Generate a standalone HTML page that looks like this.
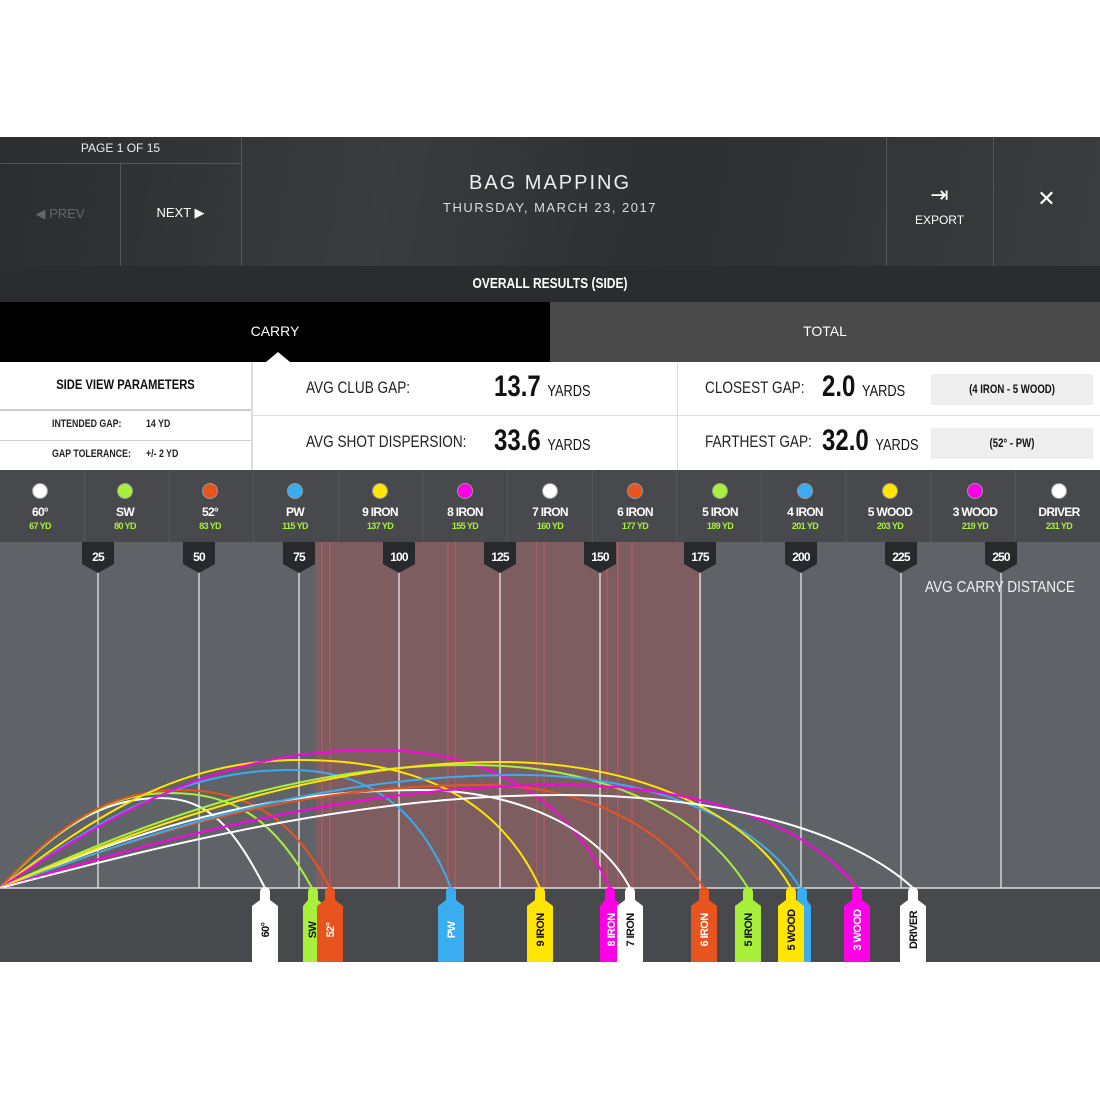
<!DOCTYPE html>
<html><head><meta charset="utf-8"><style>
*{margin:0;padding:0;box-sizing:border-box}
body{width:1100px;height:1100px;background:#fff;position:relative;overflow:hidden;font-family:"Liberation Sans",sans-serif}
.a{position:absolute}
.n{font-weight:bold;transform:scaleX(0.8);transform-origin:0 0;white-space:nowrap}
.nc{font-weight:bold;transform:scaleX(0.8);transform-origin:50% 0;white-space:nowrap}
.c{text-align:center}
.y{font-size:16px;font-weight:normal}
</style></head><body>
<!-- header -->
<div class="a" style="left:0;top:137px;width:1100px;height:129px;background:linear-gradient(100deg,#2c2d2f 0%,#3a3b3d 35%,#2e2f31 60%,#3b3c3e 100%)"></div>
<div class="a" style="left:0;top:163px;width:241px;height:1px;background:#555"></div>
<div class="a" style="left:120px;top:163px;width:1px;height:103px;background:#555"></div>
<div class="a" style="left:241px;top:137px;width:1px;height:129px;background:#555"></div>
<div class="a" style="left:886px;top:137px;width:1px;height:129px;background:#555"></div>
<div class="a" style="left:993px;top:137px;width:1px;height:129px;background:#555"></div>
<div class="a c" style="left:0;top:141px;width:241px;color:#eee;font-size:12px">PAGE 1 OF 15</div>
<div class="a c" style="left:0;top:206px;width:120px;color:#666;font-size:13px">◀ PREV</div>
<div class="a c" style="left:120px;top:205px;width:121px;color:#fff;font-size:13px">NEXT ▶</div>
<div class="a c" style="left:300px;top:172px;width:500px;color:#eee;font-size:20px;letter-spacing:2px">BAG MAPPING</div>
<div class="a c" style="left:300px;top:200px;width:500px;color:#ddd;font-size:13px;letter-spacing:1.5px">THURSDAY, MARCH 23, 2017</div>
<div class="a c" style="left:886px;top:182px;width:107px;color:#fff;font-size:22px">⇥</div>
<div class="a c" style="left:886px;top:213px;width:107px;color:#fff;font-size:12px">EXPORT</div>
<div class="a c" style="left:993px;top:186px;width:107px;color:#fff;font-size:22px">✕</div>
<div class="a" style="left:0;top:266px;width:1100px;height:36px;background:#2b2c2e"></div>
<div class="a nc c" style="left:0;top:266px;width:1100px;color:#fff;font-size:15px;line-height:36px">OVERALL RESULTS (SIDE)</div>
<!-- tabs -->
<div class="a c" style="left:0;top:302px;width:550px;height:60px;background:#000;color:#fff;font-size:14px;line-height:58px">CARRY</div>
<div class="a c" style="left:550px;top:302px;width:550px;height:60px;background:#4a4a4a;color:#fff;font-size:14px;line-height:58px">TOTAL</div>
<div class="a" style="left:266px;top:352px;width:0;height:0;border-left:12px solid transparent;border-right:12px solid transparent;border-bottom:10px solid #fff"></div>
<!-- params -->
<div class="a" style="left:251px;top:362px;width:2px;height:108px;background:#ddd"></div>
<div class="a" style="left:677px;top:362px;width:1px;height:108px;background:#ddd"></div>
<div class="a" style="left:253px;top:415px;width:847px;height:1px;background:#ddd"></div>
<div class="a" style="left:0;top:409px;width:251px;height:2px;background:#ccc"></div>
<div class="a" style="left:0;top:440px;width:251px;height:1px;background:#ccc"></div>
<div class="a nc c" style="left:0;top:376px;width:251px;font-size:14px;color:#111">SIDE VIEW PARAMETERS</div>
<div class="a n" style="left:52px;top:418px;font-size:11px;color:#222">INTENDED GAP:</div>
<div class="a n" style="left:146px;top:418px;font-size:11px;color:#222">14 YD</div>
<div class="a n" style="left:52px;top:448px;font-size:11px;color:#222">GAP TOLERANCE:</div>
<div class="a n" style="left:146px;top:448px;font-size:11px;color:#222">+/- 2 YD</div>
<div class="a n" style="left:306px;top:378px;font-size:17px;color:#222;font-weight:normal">AVG CLUB GAP:</div>
<div class="a n" style="left:494px;top:370px;font-size:30px;color:#111">13.7 <span class="y">YARDS</span></div>
<div class="a n" style="left:306px;top:432px;font-size:17px;color:#222;font-weight:normal">AVG SHOT DISPERSION:</div>
<div class="a n" style="left:494px;top:424px;font-size:30px;color:#111">33.6 <span class="y">YARDS</span></div>
<div class="a n" style="left:705px;top:378px;font-size:17px;color:#222;font-weight:normal">CLOSEST GAP:</div>
<div class="a n" style="left:822px;top:370px;font-size:30px;color:#111">2.0 <span class="y">YARDS</span></div>
<div class="a n" style="left:705px;top:432px;font-size:17px;color:#222;font-weight:normal">FARTHEST GAP:</div>
<div class="a n" style="left:822px;top:424px;font-size:30px;color:#111">32.0 <span class="y">YARDS</span></div>
<div class="a" style="left:931px;top:374px;width:162px;height:31px;background:#eee"></div>
<div class="a" style="left:931px;top:428px;width:162px;height:31px;background:#eee"></div>
<div class="a nc c" style="left:931px;top:374px;width:162px;font-size:12px;line-height:31px;color:#111">(4 IRON - 5 WOOD)</div>
<div class="a nc c" style="left:931px;top:428px;width:162px;font-size:12px;line-height:31px;color:#111">(52° - PW)</div>
<!-- chart svg -->
<svg class="a" style="left:0;top:470px" width="1100" height="492" viewBox="0 470 1100 492">
<rect x="0" y="470" width="1100" height="72" fill="#48494c"/>
<rect x="0" y="542" width="1100" height="346" fill="#5f6266"/>
<rect x="316" y="542" width="386" height="346" fill="#7e5d61"/>
<g stroke="#a05a62" stroke-width="2">
<line x1="322" y1="542" x2="322" y2="888"/><line x1="330" y1="542" x2="330" y2="888"/>
<line x1="448" y1="542" x2="448" y2="888"/><line x1="455" y1="542" x2="455" y2="888"/>
<line x1="537" y1="542" x2="537" y2="888"/><line x1="544" y1="542" x2="544" y2="888"/>
<line x1="607" y1="542" x2="607" y2="888"/><line x1="618" y1="542" x2="618" y2="888"/>
<line x1="632" y1="542" x2="632" y2="888"/><line x1="700" y1="542" x2="700" y2="888"/>
</g>
<g stroke="#56585c" stroke-width="1">
<line x1="84.6" y1="470" x2="84.6" y2="542"/><line x1="169.2" y1="470" x2="169.2" y2="542"/><line x1="253.8" y1="470" x2="253.8" y2="542"/><line x1="338.4" y1="470" x2="338.4" y2="542"/><line x1="423" y1="470" x2="423" y2="542"/><line x1="507.6" y1="470" x2="507.6" y2="542"/><line x1="592.2" y1="470" x2="592.2" y2="542"/><line x1="676.8" y1="470" x2="676.8" y2="542"/><line x1="761.4" y1="470" x2="761.4" y2="542"/><line x1="846" y1="470" x2="846" y2="542"/><line x1="930.6" y1="470" x2="930.6" y2="542"/><line x1="1015.2" y1="470" x2="1015.2" y2="542"/>
</g>
<g stroke="#e6e6e6" stroke-width="1.3">
<line x1="98" y1="560" x2="98" y2="888"/><line x1="199" y1="560" x2="199" y2="888"/><line x1="299" y1="560" x2="299" y2="888"/><line x1="399" y1="560" x2="399" y2="888"/><line x1="500" y1="560" x2="500" y2="888"/><line x1="600" y1="560" x2="600" y2="888"/><line x1="700" y1="560" x2="700" y2="888"/><line x1="801" y1="560" x2="801" y2="888"/><line x1="901" y1="560" x2="901" y2="888"/><line x1="1001" y1="560" x2="1001" y2="888"/>
</g>
<g fill="#28292c">
<path d="M82 542h32v22l-16 9l-16-9z"/><path d="M183 542h32v22l-16 9l-16-9z"/><path d="M283 542h32v22l-16 9l-16-9z"/><path d="M383 542h32v22l-16 9l-16-9z"/><path d="M484 542h32v22l-16 9l-16-9z"/><path d="M584 542h32v22l-16 9l-16-9z"/><path d="M684 542h32v22l-16 9l-16-9z"/><path d="M785 542h32v22l-16 9l-16-9z"/><path d="M885 542h32v22l-16 9l-16-9z"/><path d="M985 542h32v22l-16 9l-16-9z"/>
</g>
<g fill="#fff" font-family="Liberation Sans,sans-serif" font-weight="bold" font-size="12" text-anchor="middle" letter-spacing="-0.8">
<text x="98" y="561">25</text><text x="199" y="561">50</text><text x="299" y="561">75</text><text x="399" y="561">100</text><text x="500" y="561">125</text><text x="600" y="561">150</text><text x="700" y="561">175</text><text x="801" y="561">200</text><text x="901" y="561">225</text><text x="1001" y="561">250</text>
</g>
<text x="1075" y="592" fill="#f2f2f2" font-family="Liberation Sans,sans-serif" font-size="16" text-anchor="end" textLength="150" lengthAdjust="spacingAndGlyphs">AVG CARRY DISTANCE</text>
<!-- club header -->
<g font-family="Liberation Sans,sans-serif" font-weight="bold" text-anchor="middle">
<g stroke="#999" stroke-width="1">
<circle cx="40" cy="491" r="7.5" fill="#fff"/><circle cx="125" cy="491" r="7.5" fill="#a8f03c"/><circle cx="210" cy="491" r="7.5" fill="#e8541e"/><circle cx="295" cy="491" r="7.5" fill="#3aacf0"/><circle cx="380" cy="491" r="7.5" fill="#ffe500"/><circle cx="465" cy="491" r="7.5" fill="#ff00e6"/><circle cx="550" cy="491" r="7.5" fill="#fff"/><circle cx="635" cy="491" r="7.5" fill="#e8541e"/><circle cx="720" cy="491" r="7.5" fill="#a8f03c"/><circle cx="805" cy="491" r="7.5" fill="#3aacf0"/><circle cx="890" cy="491" r="7.5" fill="#ffe500"/><circle cx="975" cy="491" r="7.5" fill="#ff00e6"/><circle cx="1059" cy="491" r="7.5" fill="#fff"/>
</g>
<g fill="#fff" font-size="12" letter-spacing="-0.7">
<text x="40" y="516">60°</text><text x="125" y="516">SW</text><text x="210" y="516">52°</text><text x="295" y="516">PW</text><text x="380" y="516">9 IRON</text><text x="465" y="516">8 IRON</text><text x="550" y="516">7 IRON</text><text x="635" y="516">6 IRON</text><text x="720" y="516">5 IRON</text><text x="805" y="516">4 IRON</text><text x="890" y="516">5 WOOD</text><text x="975" y="516">3 WOOD</text><text x="1059" y="516">DRIVER</text>
</g>
<g fill="#a8f03c" font-size="9" letter-spacing="-0.6">
<text x="40" y="529">67 YD</text><text x="125" y="529">80 YD</text><text x="210" y="529">83 YD</text><text x="295" y="529">115 YD</text><text x="380" y="529">137 YD</text><text x="465" y="529">155 YD</text><text x="550" y="529">160 YD</text><text x="635" y="529">177 YD</text><text x="720" y="529">189 YD</text><text x="805" y="529">201 YD</text><text x="890" y="529">203 YD</text><text x="975" y="529">219 YD</text><text x="1059" y="529">231 YD</text>
</g></g>
<!-- arcs -->
<g fill="none" stroke-width="2">
<path stroke="#fff" d="M0 888C55 830 100 798 160 798C210 798 235 830 265 888"/>
<path stroke="#a8f03c" d="M0 888C60 826 105 793 170 793C235 793 275 820 312 888"/>
<path stroke="#e8541e" d="M0 888C60 822 112 790 180 790C250 790 295 820 330 888"/>
<path stroke="#3aacf0" d="M0 888C100 820 180 770 290 770C370 770 420 810 451 888"/>
<path stroke="#ffe500" d="M0 888C100 812 180 760 300 760C420 760 500 800 540 888"/>
<path stroke="#ff00e6" d="M0 888C125 805 225 750 375 750C490 750 570 800 610 888"/>
<path stroke="#fff" d="M0 888C140 830 260 790 420 790C520 790 600 830 630 888"/>
<path stroke="#e8541e" d="M0 888C160 828 300 785 480 785C590 785 665 830 704 888"/>
<path stroke="#a8f03c" d="M0 888C160 815 300 765 470 765C600 765 700 810 748 888"/>
<path stroke="#3aacf0" d="M0 888C175 822 330 775 520 775C650 775 760 820 800 888"/>
<path stroke="#ffe500" d="M0 888C170 815 330 762 500 762C640 762 750 815 791 888"/>
<path stroke="#ff00e6" d="M0 888C190 830 370 785 560 785C700 785 810 825 857 888"/>
<path stroke="#fff" d="M0 888C190 838 370 795 560 795C720 795 850 830 913 888"/>
</g>
<rect x="0" y="888" width="1100" height="74" fill="#48494c"/>
<line x1="0" y1="888" x2="1100" y2="888" stroke="#ddd" stroke-width="1.5"/>
<!-- tags -->
<g font-family="Liberation Sans,sans-serif" font-weight="bold" font-size="11" text-anchor="middle" letter-spacing="-0.6">
<path fill="#fff" d="M252 962V906l8-6v-8a5 5 0 0 1 10 0v8l8 6v56z"/>
<path fill="#a8f03c" d="M303 962V906l5-6v-8a5 5 0 0 1 10 0v8l8 6v56z"/>
<path fill="#e8541e" d="M317 962V906l8-6v-8a5 5 0 0 1 10 0v8l8 6v56z"/>
<path fill="#3aacf0" d="M438 962V906l8-6v-8a5 5 0 0 1 10 0v8l8 6v56z"/>
<path fill="#ffe500" d="M527 962V906l8-6v-8a5 5 0 0 1 10 0v8l8 6v56z"/>
<path fill="#ff00e6" d="M600 962V906l5-6v-8a5 5 0 0 1 10 0v8l8 6v56z"/>
<path fill="#fff" d="M617 962V906l8-6v-8a5 5 0 0 1 10 0v8l8 6v56z"/>
<path fill="#e8541e" d="M691 962V906l8-6v-8a5 5 0 0 1 10 0v8l8 6v56z"/>
<path fill="#a8f03c" d="M735 962V906l8-6v-8a5 5 0 0 1 10 0v8l8 6v56z"/>
<path fill="#3aacf0" d="M789 962V906l8-6v-8a5 5 0 0 1 10 0v8l4 6v56z"/>
<path fill="#ffe500" d="M778 962V906l8-6v-8a5 5 0 0 1 10 0v8l8 6v56z"/>
<path fill="#ff00e6" d="M844 962V906l8-6v-8a5 5 0 0 1 10 0v8l8 6v56z"/>
<path fill="#fff" d="M900 962V906l8-6v-8a5 5 0 0 1 10 0v8l8 6v56z"/>
<g fill="#111">
<text transform="translate(269 930) rotate(-90)">60°</text>
<text transform="translate(316 930) rotate(-90)">SW</text>
<text transform="translate(544 930) rotate(-90)">9 IRON</text>
<text transform="translate(634 930) rotate(-90)">7 IRON</text>
<text transform="translate(795 930) rotate(-90)">5 WOOD</text>
<text transform="translate(917 930) rotate(-90)">DRIVER</text>
<text transform="translate(752 930) rotate(-90)">5 IRON</text>
</g>
<g fill="#fff">
<text transform="translate(334 930) rotate(-90)">52°</text>
<text transform="translate(455 930) rotate(-90)">PW</text>
<text transform="translate(615 930) rotate(-90)">8 IRON</text>
<text transform="translate(708 930) rotate(-90)">6 IRON</text>
<text transform="translate(861 930) rotate(-90)">3 WOOD</text>
</g>
</g>
</svg>
</body></html>
